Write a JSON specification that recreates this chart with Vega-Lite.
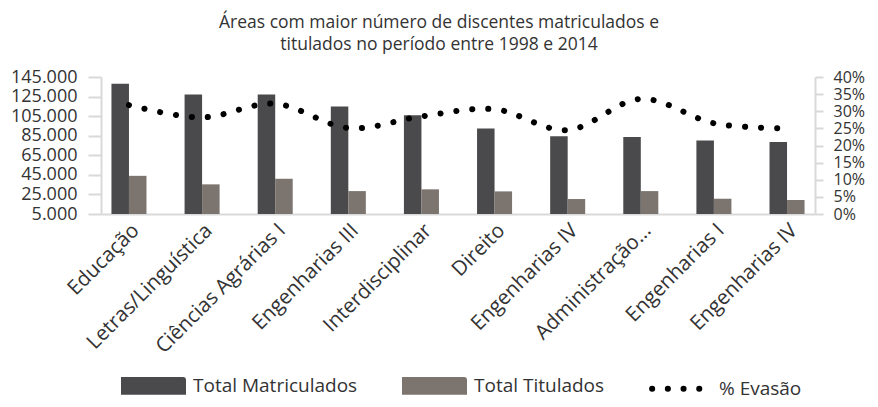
{
  "$schema": "https://vega.github.io/schema/vega-lite/v6.json",
  "width": 714,
  "height": 137,
  "autosize": {"type": "none"},
  "padding": {"left": 101, "top": 77, "right": 63, "bottom": 193},
  "background": "white",
  "config": {
    "font": "Open Sans",
    "view": {"stroke": null},
    "axis": {"labelColor": "#333", "labelFont": "Open Sans", "domainColor": "#d9d9d9", "domainWidth": 2, "tickColor": "#d9d9d9", "tickWidth": 2, "grid": false, "title": null, "labelOverlap": false}
  },
  "title": {
    "text": ["Áreas com maior número de discentes matriculados e", "titulados no período entre 1998 e 2014"],
    "fontSize": 17.5,
    "fontWeight": "normal",
    "color": "#333",
    "font": "Open Sans",
    "anchor": "middle",
    "dx": -19,
    "offset": 15,
    "lineHeight": 22
  },
  "data": {
    "values": [
      {"Area": "Educação", "Total Matriculados": 138200, "Total Titulados": 44000, "Evasao": 0.318},
      {"Area": "Letras/Linguística", "Total Matriculados": 127000, "Total Titulados": 35300, "Evasao": 0.282},
      {"Area": "Ciências Agrárias I", "Total Matriculados": 127000, "Total Titulados": 41000, "Evasao": 0.322},
      {"Area": "Engenharias III", "Total Matriculados": 114800, "Total Titulados": 28400, "Evasao": 0.251},
      {"Area": "Interdisciplinar", "Total Matriculados": 106000, "Total Titulados": 30200, "Evasao": 0.285},
      {"Area": "Direito", "Total Matriculados": 92300, "Total Titulados": 28100, "Evasao": 0.306},
      {"Area": "Engenharias IV", "Total Matriculados": 84500, "Total Titulados": 20300, "Evasao": 0.245},
      {"Area": "Administração...", "Total Matriculados": 83800, "Total Titulados": 28400, "Evasao": 0.336},
      {"Area": "Engenharias I", "Total Matriculados": 80100, "Total Titulados": 20600, "Evasao": 0.265},
      {"Area": "Engenharias IV\u200b", "Total Matriculados": 78700, "Total Titulados": 19300, "Evasao": 0.250}
    ]
  },
  "encoding": {
    "x": {
      "field": "Area",
      "type": "nominal",
      "sort": null,
      "scale": {"paddingInner": 0.521, "paddingOuter": 0.143},
      "axis": {"labelAngle": -45, "labelFontSize": 20.5, "ticks": false, "labelPadding": 6, "title": null, "labelLimit": 300}
    }
  },
  "layer": [
    {
      "transform": [{"fold": ["Total Matriculados", "Total Titulados"], "as": ["Serie", "Valor"]}],
      "mark": {"type": "bar"},
      "encoding": {
        "xOffset": {"field": "Serie", "type": "nominal", "scale": {"paddingInner": 0, "paddingOuter": 0}},
        "y": {
          "field": "Valor",
          "type": "quantitative",
          "scale": {"domain": [5000, 145000], "nice": false, "zero": false},
          "axis": {
            "values": [5000, 25000, 45000, 65000, 85000, 105000, 125000, 145000],
            "labelExpr": "replace(format(datum.value, ',.0f'), ',', '.')",
            "labelFontSize": 18,
            "tickSize": 13,
            "labelPadding": 11
          }
        },
        "y2": {"datum": 5000},
        "color": {
          "field": "Serie",
          "type": "nominal",
          "scale": {"domain": ["Total Matriculados", "Total Titulados", "% Evasão"], "range": ["#4a4a4c", "#7b746f", "#000000"]},
          "legend": {
            "orient": "none",
            "legendX": 20,
            "legendY": 276,
            "direction": "horizontal",
            "title": null,
            "symbolSize": 3481,
            "symbolStrokeWidth": 0,
            "labelFontSize": 19,
            "labelColor": "#333",
            "labelOffset": 7,
            "columnPadding": 35,
            "padding": 0,
            "labelLimit": 300,
            "encode": {
              "symbols": {
                "update": {
                  "shape": {"signal": "datum.value === '% Evasão' ? 'M-1.81,0H-0.21' : 'M-1,-0.2H1V0.2H-1Z'"},
                  "fill": {"signal": "datum.value === '% Evasão' ? 'transparent' : (datum.value === 'Total Matriculados' ? '#4a4a4c' : '#7b746f')"},
                  "stroke": {"signal": "datum.value === '% Evasão' ? '#000000' : 'transparent'"},
                  "strokeWidth": {"value": 6},
                  "strokeCap": {"value": "round"},
                  "strokeDash": {"signal": "datum.value === '% Evasão' ? [0.1, 15.6] : [1, 0]"},
                  "size": {"value": 3481},
                  "opacity": {"value": 1}
                }
              },
              "labels": {
                "update": {
                  "dx": {"signal": "datum.value === '% Evasão' ? -26 : 0"}
                }
              }
            }
          }
        }
      }
    },
    {
      "mark": {"type": "line", "interpolate": "cardinal", "strokeWidth": 6, "strokeDash": [0.1, 15.9], "strokeCap": "round"},
      "encoding": {
        "y": {
          "field": "Evasao",
          "type": "quantitative",
          "scale": {"domain": [0, 0.4], "nice": false, "zero": true},
          "axis": {
            "orient": "right",
            "values": [0, 0.05, 0.1, 0.15, 0.2, 0.25, 0.3, 0.35, 0.4],
            "format": ".0%",
            "labelFontSize": 16,
            "tickSize": 8,
            "labelPadding": 10
          }
        },
        "color": {"datum": "% Evasão"}
      }
    }
  ],
  "resolve": {"scale": {"y": "independent"}}
}
